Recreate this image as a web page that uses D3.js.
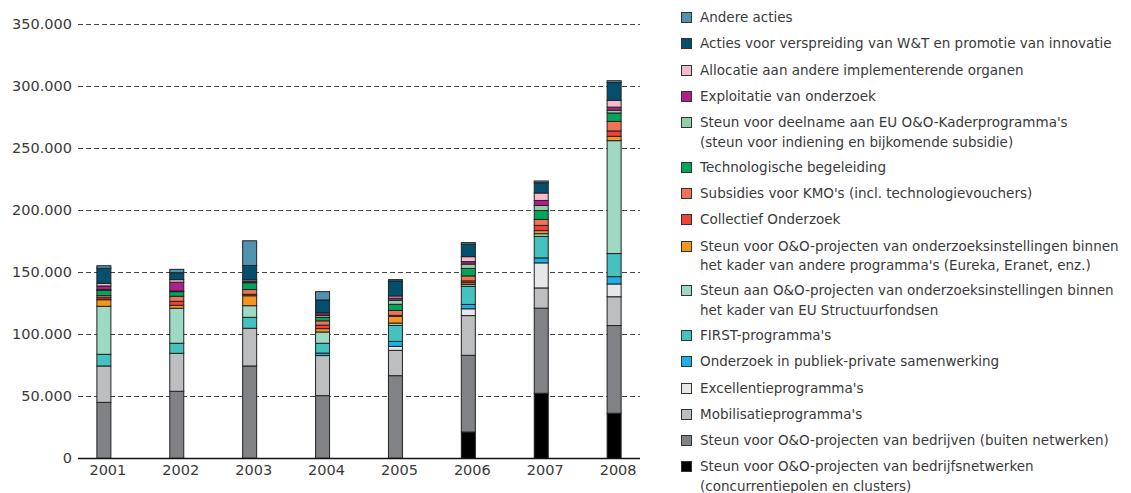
<!DOCTYPE html>
<html lang="nl">
<head>
    <meta charset="UTF-8">
    <title>Steun per instrument 2001-2008</title>
    <style>
        body { margin: 0; background: #fff; }
        text { font-family: "DejaVu Sans", sans-serif; fill: #3a3a3a; }
        .grid { stroke: #444; stroke-width: 1; stroke-dasharray: 5, 3; }
        .seg { stroke: #222; stroke-width: 1; }
    </style>
</head>
<body>
    <svg width="1131" height="493"></svg>
    <script src="https://d3js.org/d3.v7.min.js"></script>
    <script>
        // jaren
        var years = ["2001", "2002", "2003", "2004", "2005", "2006", "2007", "2008"];

        // reeksen, van onder naar boven gestapeld
        var netwerken    = [0, 0, 0, 0, 0, 21200, 52400, 36300];
        var bedrijven    = [45100, 54000, 74400, 50500, 66600, 61800, 68600, 70700];
        var mobilisatie  = [29300, 30600, 30400, 32300, 20400, 32000, 16300, 23200];
        var excellentie  = [0, 0, 0, 0, 3200, 5500, 20200, 10300];
        var pps          = [0, 0, 0, 2000, 4000, 3500, 4000, 5900];
        var first        = [9400, 8100, 8800, 7900, 12900, 14500, 17300, 18600];
        var structuur    = [38700, 28200, 9400, 9100, 1900, 1500, 2200, 91000];
        var andereProg   = [5300, 2400, 8000, 2700, 5400, 1500, 2500, 3500];
        var collectief   = [1600, 3200, 1200, 2800, 800, 1500, 4200, 4300];
        var kmo          = [1700, 4100, 3800, 3500, 4000, 4000, 4800, 7700];
        var begeleiding  = [4200, 3700, 5500, 2700, 4900, 6000, 7200, 6800];
        var kaderprog    = [700, 600, 400, 1500, 3200, 3500, 4100, 2200];
        var exploitatie  = [2900, 7000, 800, 1500, 1800, 2000, 4000, 2500];
        var allocatie    = [2100, 2100, 1200, 1000, 1700, 4000, 6000, 5500];
        var verspreiding = [12100, 5600, 11500, 10100, 12100, 10000, 8300, 14300];
        var andereActies = [2100, 2700, 19900, 6700, 1100, 1300, 1400, 1500];

        var yTicks = [0, 50000, 100000, 150000, 200000, 250000, 300000, 350000];

        var series = [
            { key: "netwerken", values: netwerken, color: "#000000",
              label: ["Steun voor O&O-projecten van bedrijfsnetwerken", "(concurrentiepolen en clusters)"] },
            { key: "bedrijven", values: bedrijven, color: "#808285",
              label: ["Steun voor O&O-projecten van bedrijven (buiten netwerken)"] },
            { key: "mobilisatie", values: mobilisatie, color: "#bcbec0",
              label: ["Mobilisatieprogramma's"] },
            { key: "excellentie", values: excellentie, color: "#e6e7e8",
              label: ["Excellentieprogramma's"] },
            { key: "pps", values: pps, color: "#1cb0e6",
              label: ["Onderzoek in publiek-private samenwerking"] },
            { key: "first", values: first, color: "#45c2bf",
              label: ["FIRST-programma's"] },
            { key: "structuur", values: structuur, color: "#9dd9c3",
              label: ["Steun aan O&O-projecten van onderzoeksinstellingen binnen", "het kader van EU Structuurfondsen"] },
            { key: "andereProg", values: andereProg, color: "#f7941d",
              label: ["Steun voor O&O-projecten van onderzoeksinstellingen binnen", "het kader van andere programma's (Eureka, Eranet, enz.)"] },
            { key: "collectief", values: collectief, color: "#ef4136",
              label: ["Collectief Onderzoek"] },
            { key: "kmo", values: kmo, color: "#f37257",
              label: ["Subsidies voor KMO's (incl. technologievouchers)"] },
            { key: "begeleiding", values: begeleiding, color: "#00a65a",
              label: ["Technologische begeleiding"] },
            { key: "kaderprog", values: kaderprog, color: "#8fd1a6",
              label: ["Steun voor deelname aan EU O&O-Kaderprogramma's", "(steun voor indiening en bijkomende subsidie)"] },
            { key: "exploitatie", values: exploitatie, color: "#b01e8e",
              label: ["Exploitatie van onderzoek"] },
            { key: "allocatie", values: allocatie, color: "#f8b9cc",
              label: ["Allocatie aan andere implementerende organen"] },
            { key: "verspreiding", values: verspreiding, color: "#034f6d",
              label: ["Acties voor verspreiding van W&T en promotie van innovatie"] },
            { key: "andereActies", values: andereActies, color: "#5192b0",
              label: ["Andere acties"] }
        ];

        // tabel voor d3.stack
        var table = years.map(function (yr, i) {
            var row = { year: yr };
            series.forEach(function (s) { row[s.key] = s.values[i]; });
            return row;
        });

        var stacked = d3.stack().keys(series.map(s => s.key))(table);

        var svg = d3.select("svg");

        var x = d3.scalePoint().domain(years).range([78, 640]).padding(0.355);
        var y = d3.scaleLinear().domain([0, 350000]).range([458.3, 24]);
        var barW = 14;
        var fmt = d3.formatLocale({ decimal: ",", thousands: ".", grouping: [3], currency: ["€", ""] }).format(",");

        // rasterlijnen
        svg.append("g")
            .selectAll("line")
            .data(yTicks.filter(t => t > 0))
            .enter()
            .append("line")
            .attr("class", "grid")
            .attr("x1", 78)
            .attr("x2", 640)
            .attr("y1", d => Math.round(y(d)) + 0.5)
            .attr("y2", d => Math.round(y(d)) + 0.5);

        svg.append("g")
            .selectAll("text")
            .data(yTicks)
            .enter()
            .append("text")
            .attr("x", 72)
            .attr("y", d => y(d))
            .attr("dy", "0.35em")
            .attr("text-anchor", "end")
            .style("font-size", "14.5px")
            .text(d => fmt(d));

        // balken
        var layers = svg.append("g")
            .selectAll("g")
            .data(stacked)
            .enter()
            .append("g")
            .style("fill", (d, i) => series[i].color);

        layers.selectAll("rect")
            .data(d => d.filter(p => p[1] - p[0] > 0))
            .enter()
            .append("rect")
            .attr("class", "seg")
            .attr("x", d => x(d.data.year) - barW / 2)
            .attr("y", d => y(d[1]))
            .attr("width", barW)
            .attr("height", d => y(d[0]) - y(d[1]));

        // x-as
        svg.append("line")
            .attr("x1", 78)
            .attr("x2", 640)
            .attr("y1", 458.5)
            .attr("y2", 458.5)
            .style("stroke", "#111")
            .style("stroke-width", 1.5);

        svg.append("g")
            .selectAll("text")
            .data(years)
            .enter()
            .append("text")
            .attr("x", d => x(d) + 4)
            .attr("y", 475)
            .attr("text-anchor", "middle")
            .style("font-size", "14.5px")
            .text(d => d);

        // legende
        var legendItems = series.slice().reverse();
        var ly = 17.2;
        legendItems.forEach(function (s) {
            s.ly = ly;
            ly += 26.25 + 18.5 * (s.label.length - 1);
        });

        var legend = svg.append("g")
            .selectAll("g")
            .data(legendItems)
            .enter()
            .append("g");

        legend.append("rect")
            .attr("x", 681.5)
            .attr("y", d => Math.round(d.ly - 5) + 0.5)
            .attr("width", 10)
            .attr("height", 10)
            .style("fill", d => d.color)
            .style("stroke", "#333")
            .style("stroke-width", 1);

        legend.selectAll("text")
            .data(d => d.label.map((t, i) => ({ t: t, y: d.ly + i * 19.5 })))
            .enter()
            .append("text")
            .attr("x", 700)
            .attr("y", d => d.y)
            .attr("dy", "0.36em")
            .style("font-size", "13.5px")
            .text(d => d.t);
    </script>
</body>
</html>
